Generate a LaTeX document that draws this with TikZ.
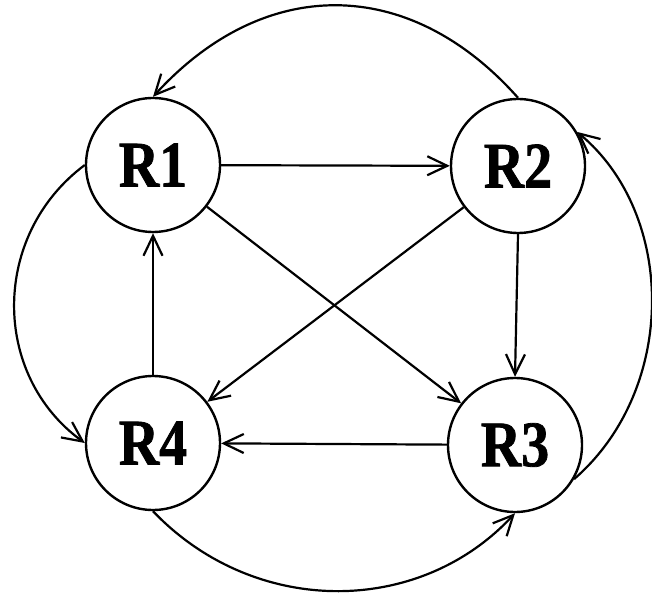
\documentclass[tikz,border=0pt]{standalone}
\usepackage{fontspec}
\setmainfont{Liberation Serif}
\newfontface\labfont{Liberation Serif Bold}[FakeBold=1.2]
\usetikzlibrary{arrows.meta}
\begin{document}
\begin{tikzpicture}[x=1pt,y=-1pt,
  state/.style={circle,draw,line width=2.4pt,minimum size=134pt,inner sep=0pt,
    font=\fontsize{65}{65}\labfont},
  edge/.style={line width=2.2pt,-{Straight Barb[length=20pt,width=19pt,line width=2.2pt]}}]
\useasboundingbox (0,0) rectangle (652,593);
\node[state] (R1) at (153,165) {\scalebox{0.86}[1]{R1}};
\node[state] (R2) at (518,166) {\scalebox{0.86}[1]{R2}};
\node[state] (R4) at (153,443) {\scalebox{0.86}[1]{R4}};
\node[state] (R3) at (515,445) {\scalebox{0.86}[1]{R3}};
\draw[edge] (R1) -- (R2);
\draw[edge] (R2.south) -- (R3.north);
\draw[edge] (R3) -- (R4);
\draw[edge] (R4) -- (R1);
\draw[edge] (R1) -- (R3);
\draw[edge] (R2) -- (R4);
\draw[edge] (R2.north) .. controls (409,-25) and (264,-25) .. (R1.north);
\draw[edge] (R1.west) .. controls (-9,235) and (-9,375) .. (R4.west);
\draw[edge] (R4.south) .. controls (254,617) and (419,617) .. (R3.south);
\draw[edge] (R3.-30) .. controls (677,390) and (677,215) .. (R2.30);
\end{tikzpicture}
\end{document}
